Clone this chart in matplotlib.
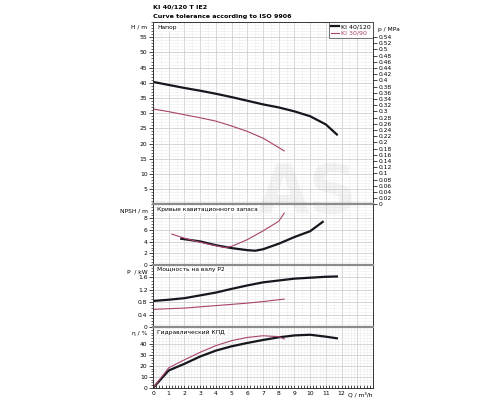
import numpy as np
import matplotlib
matplotlib.use("Agg")
from matplotlib import pyplot as plt
from matplotlib.ticker import MultipleLocator, FuncFormatter

# flow rate points (m3/h)
q_big = [0, 1, 2, 3, 4, 5, 6, 7, 8, 9, 10, 11, 11.7]
h_big = [40.3, 39.3, 38.3, 37.4, 36.4, 35.3, 34.1, 32.9, 31.9, 30.6, 29.0, 26.3, 23.0]
p_big = [0.84, 0.88, 0.93, 1.02, 1.11, 1.23, 1.34, 1.44, 1.5, 1.56, 1.59, 1.62, 1.63]
eta_big = [0, 15.8, 21.8, 28.4, 33.7, 37.6, 40.6, 43.3, 45.7, 47.4, 48.0, 46.3, 44.8]

q_npsh_big = [1.8, 3, 4, 5, 6, 6.5, 7, 8, 9, 10, 10.8]
npsh_big = [4.5, 4.05, 3.4, 2.9, 2.55, 2.45, 2.7, 3.65, 4.8, 5.8, 7.4]

q_small = [0, 1, 2, 3, 4, 5, 6, 7, 8, 8.35]
h_small = [31.4, 30.5, 29.5, 28.5, 27.4, 25.8, 24.0, 21.8, 18.7, 17.6]
p_small = [0.57, 0.59, 0.61, 0.65, 0.69, 0.73, 0.77, 0.82, 0.88, 0.9]
eta_small = [0, 18.2, 25.4, 32.2, 38.2, 42.7, 45.6, 47.1, 46.3, 44.2]

q_npsh_small = [1.2, 2, 3, 4, 4.6, 5, 6, 7, 8, 8.35]
npsh_small = [5.3, 4.6, 3.9, 3.3, 3.0, 3.2, 4.35, 5.85, 7.5, 8.9]

names = ["KI 40/120", "KI 30/90"]
panel_titles = ["Напор", "Кривые кавитационного запаса", "Мощность на валу P2", "Гидравлический КПД"]
y_labels = ["H / m", "NPSH / m", "P  / kW", "η / %"]
h_ticks = [5, 10, 15, 20, 25, 30, 35, 40, 45, 50, 55]
npsh_ticks = [0, 2, 4, 6, 8]
p_ticks = [0, 0.4, 0.8, 1.2, 1.6]
eta_ticks = [0, 10, 20, 30, 40]
q_ticks = list(range(0, 13))

c_big = "#16161e"
c_small = "#a8436d"
sep = "#8c8c8c"

plt.rcParams['font.family'] = ['DejaVu Sans']
fig = plt.figure(figsize=(5, 4), dpi=100)

left, width = 0.306, 0.44
ax_h = fig.add_axes([left, 0.489, width, 0.456])
ax_n = fig.add_axes([left, 0.3375, width, 0.1515])
ax_p = fig.add_axes([left, 0.1825, width, 0.155])
ax_e = fig.add_axes([left, 0.03, width, 0.1525])
axes = [ax_h, ax_n, ax_p, ax_e]

def fmt(v, pos):
    s = ("%.2f" % v).rstrip("0").rstrip(".")
    return s

ax_h.plot(q_big, h_big, color=c_big, lw=1.6, label=names[0])
ax_h.plot(q_small, h_small, color=c_small, lw=0.8, label=names[1])
ax_n.plot(q_npsh_big, npsh_big, color=c_big, lw=1.6)
ax_n.plot(q_npsh_small, npsh_small, color=c_small, lw=0.8)
ax_p.plot(q_big, p_big, color=c_big, lw=1.6)
ax_p.plot(q_small, p_small, color=c_small, lw=0.8)
ax_e.plot(q_big, eta_big, color=c_big, lw=1.6)
ax_e.plot(q_small, eta_small, color=c_small, lw=0.8)

ax_h.set_ylim(0, 60)
ax_h.set_yticks(h_ticks)
ax_h.yaxis.set_minor_locator(MultipleLocator(1))
ax_n.set_ylim(0, 10.4)
ax_n.set_yticks(npsh_ticks)
ax_n.yaxis.set_minor_locator(MultipleLocator(0.5))
ax_p.set_ylim(0, 2.0)
ax_p.set_yticks(p_ticks)
ax_p.yaxis.set_minor_locator(MultipleLocator(0.1))
ax_e.set_ylim(0, 55)
ax_e.set_yticks(eta_ticks)
ax_e.yaxis.set_minor_locator(MultipleLocator(2.5))

for i, ax in enumerate(axes):
    ax.set_xlim(0, 14)
    ax.set_xticks(range(0, 15))
    ax.xaxis.set_minor_locator(MultipleLocator(0.2 if ax is ax_e else 0.5))
    ax.grid(which="major", color="#d0d0d0", lw=0.6)
    ax.grid(which="minor", color="#ececec", lw=0.4)
    ax.set_axisbelow(True)
    ax.yaxis.set_major_formatter(FuncFormatter(fmt))
    ax.tick_params(axis="y", which="major", labelsize=4.3, length=3, width=0.5, pad=1, direction="out")
    ax.tick_params(axis="y", which="minor", length=1.5, width=0.4, direction="out")
    ax.tick_params(axis="x", which="both", labelbottom=(ax is ax_e), bottom=(ax is ax_e),
                   labelsize=4.3, length=2.5, width=0.5, pad=2, direction="in")
    for s in ["left", "right", "bottom"]:
        ax.spines[s].set_color("#333333")
        ax.spines[s].set_linewidth(0.7)
    if i > 0:
        ax.spines["top"].set_color(sep)
        ax.spines["top"].set_linewidth(1.6)
    else:
        ax.spines["top"].set_color("#333333")
        ax.spines["top"].set_linewidth(0.7)
        ax.spines["bottom"].set_color(sep)
        ax.spines["bottom"].set_linewidth(1.6)
    ax.text(0.02, 0.985 if i == 0 else 0.96, panel_titles[i], transform=ax.transAxes,
            fontsize=4.3, va="top", ha="left",
            bbox=dict(facecolor="white", edgecolor="none", pad=0.6))
    ax.text(-0.025, 0.985 if i == 0 else 0.93, y_labels[i], transform=ax.transAxes,
            fontsize=4.3, va="top", ha="right")

ax_e.set_xticklabels([str(q) if q in q_ticks else "" for q in range(0, 15)])
ax_e.text(1.0, -0.065, "Q / m³/h", transform=ax_e.transAxes, fontsize=4.3,
          va="top", ha="right")

# pressure axis on the right of the head panel
ax_pr = ax_h.twinx()
ax_pr.set_ylim(0, 60 * 0.0098067)
ax_pr.set_yticks(np.arange(0, 0.55, 0.02))
ax_pr.yaxis.set_major_formatter(FuncFormatter(fmt))
ax_pr.tick_params(axis="y", labelsize=4.3, length=3, width=0.5, pad=1, direction="out")
for s in ax_pr.spines.values():
    s.set_visible(False)
ax_pr.text(1.025, 0.975, "p / MPa", transform=ax_h.transAxes, fontsize=4.3,
           va="top", ha="left")

leg = ax_h.legend(loc="upper right", fontsize=4.5, frameon=True, fancybox=False,
                  borderpad=0.3, handlelength=1.3, handletextpad=0.4, labelspacing=0.2,
                  borderaxespad=0.0)
leg.get_frame().set_edgecolor("#333333")
leg.get_frame().set_linewidth(0.6)
leg.get_texts()[1].set_color(c_small)

fig.text(0.306, 0.982, "KI 40/120 T IE2", fontsize=4.6, fontweight="bold", va="center", ha="left")
fig.text(0.306, 0.958, "Curve tolerance according to ISO 9906", fontsize=4.6,
         fontweight="bold", va="center", ha="left")

# faint watermark
fig.text(0.615, 0.515, "AS", fontsize=48, color="#9a9a9a", alpha=0.10,
         ha="center", va="center", fontweight="bold")

fig.savefig("out.png", dpi=100)
